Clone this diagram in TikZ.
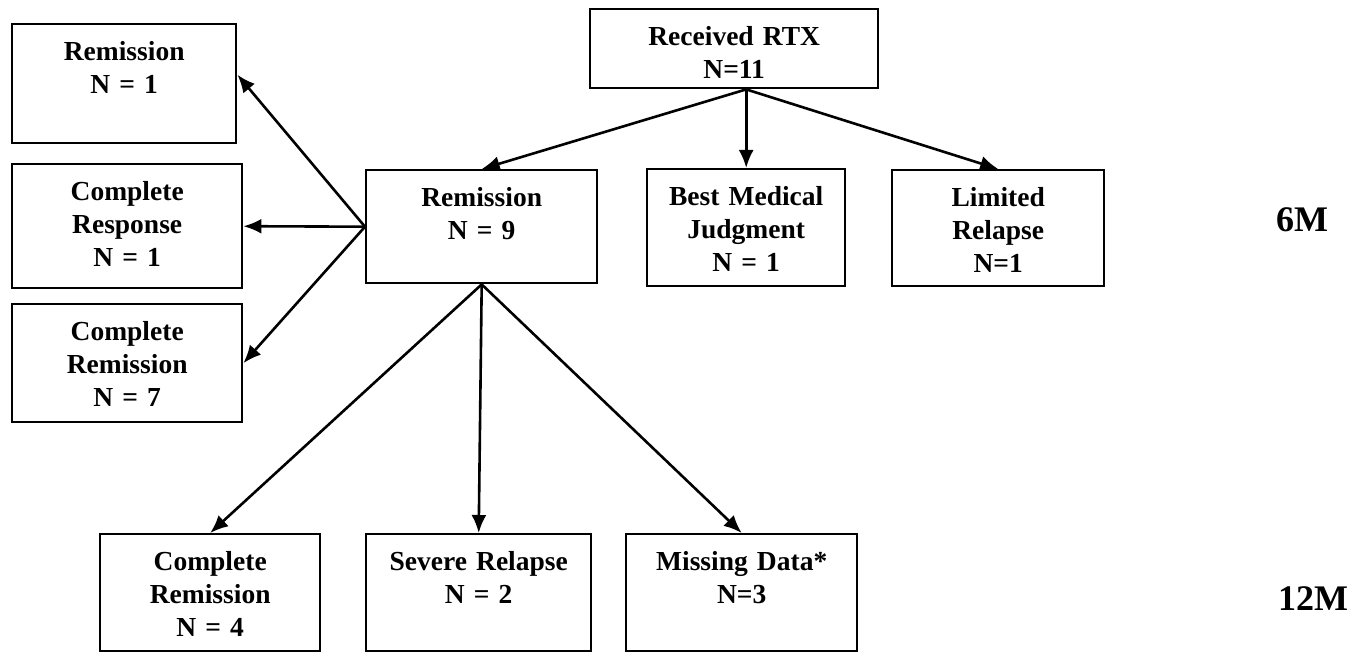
\documentclass[tikz,border=0pt]{standalone}
\usepackage{fontspec}
\setmainfont{Liberation Serif}
\usepackage{tikz}
\usetikzlibrary{arrows.meta}

\begin{document}
\begin{tikzpicture}[
      x=1pt, y=-1pt,
      font=\fontsize{27.5}{33}\selectfont\bfseries,
      box/.style={draw, line width=2.4pt, anchor=north west, align=center, inner sep=0pt, text height=36pt},
      arrow/.style={-{Latex[length=18pt, width=15pt]}, line width=2.6pt},
      period/.style={anchor=base, font=\fontsize{36}{40}\selectfont\bfseries},
    ]
      \useasboundingbox (0,0) rectangle (1365,652);
      % top and 6 month row
      \node[box, text width=288pt, text depth=43pt] (rtx) at (589,8) {Received RTX\\N=11};
      \node[box, text width=231pt, text depth=77pt] (rem9) at (365,169) {Remission\\N = 9};
      \node[box, text width=198pt, text depth=81pt] (bmj) at (646,168) {Best Medical\\Judgment\\N = 1};
      \node[box, text width=212pt, text depth=80pt] (lim) at (891,169) {Limited\\Relapse\\N=1};
      % left column
      \node[box, text width=224pt, text depth=83pt] (rem1) at (11,23) {Remission\\N = 1};
      \node[box, text width=230pt, text depth=88pt] (cresp) at (11,163) {Complete\\Response\\N = 1};
      \node[box, text width=230pt, text depth=82pt] (crem7) at (11,303) {Complete\\Remission\\N = 7};
      % 12 month row
      \node[box, text width=220pt, text depth=81pt] (crem4) at (99,533) {Complete\\Remission\\N = 4};
      \node[box, text width=225pt, text depth=81pt] (sev) at (365,533) {Severe Relapse\\N = 2};
      \node[box, text width=231pt, text depth=81pt] (miss) at (625,533) {Missing Data*\\N=3};
      \node[period] (m6) at (1302,232) {6M};
      \node[period] (m12) at (1313,610) {12M};
      \coordinate (split) at (rtx.south -| bmj.north);
      \draw[arrow] (split) -- (rem9.north);
      \draw[arrow] (split) -- (bmj.north);
      \draw[arrow] (split) -- (lim.north);
      \draw[arrow] (rem9.west) -- ([yshift=9pt]rem1.east);
      \draw[arrow] (rem9.west) -- (cresp.east);
      \draw[arrow] (rem9.west) -- (crem7.east);
      \draw[arrow] (rem9.south) -- (crem4.north);
      \draw[arrow] (rem9.south) -- (sev.north);
      \draw[arrow] (rem9.south) -- (miss.north);
    \end{tikzpicture}
\end{document}
